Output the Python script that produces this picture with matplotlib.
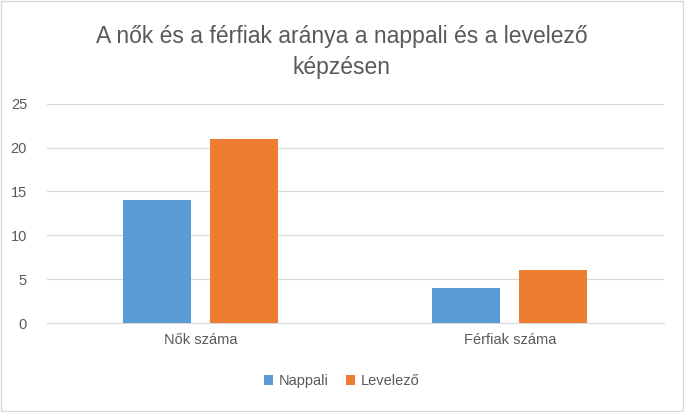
import numpy as np
import matplotlib.pyplot as plt
from matplotlib.patches import Rectangle

plt.rcParams['font.family'] = ['Liberation Sans', 'DejaVu Sans']

categories = ["Nők száma", "Férfiak száma"]
nappali = [14, 4]
levelezo = [21, 6]
series_names = ["Nappali", "Levelező"]
yticks = [0, 5, 10, 15, 20, 25]

fig = plt.figure(figsize=(6.84, 4.12), dpi=100)
ax = fig.add_axes([0.068, 0.216, 0.903, 0.532])

x = np.arange(len(categories))
w = 0.22
off = 0.141
ax.bar(x - off, nappali, w, color="#5B9BD5", label=series_names[0], zorder=3)
ax.bar(x + off, levelezo, w, color="#ED7D31", label=series_names[1], zorder=3)

ax.set_xlim(-0.5, 1.5)
ax.set_ylim(0, 25)
ax.set_yticks(yticks)
ax.set_xticks(x)
ax.set_xticklabels(categories)
ax.grid(axis="y", color="#D9D9D9", linewidth=0.9, zorder=0)
for s in ["top", "right", "left"]:
    ax.spines[s].set_visible(False)
ax.spines["bottom"].set_color("#D9D9D9")
ax.tick_params(axis="both", length=0, labelsize=10.5, colors="#595959", pad=7)
ax.tick_params(axis="y", pad=14)

fig.text(0.5, 0.874, "A nők és a férfiak aránya a nappali és a levelező\nképzésen",
         ha="center", va="center", fontsize=16.5, color="#595959", linespacing=1.45)

fig.legend(loc="center", bbox_to_anchor=(0.5, 0.075), ncol=2, frameon=False,
           fontsize=10.5, labelcolor="#595959", handlelength=0.6, handleheight=0.6,
           columnspacing=1.2, handletextpad=0.4)

fig.patches.append(Rectangle((0.002, 0.002), 0.996, 0.995, transform=fig.transFigure,
                             fill=False, edgecolor="#D9D9D9", linewidth=1))

fig.savefig("out.png", dpi=100)
